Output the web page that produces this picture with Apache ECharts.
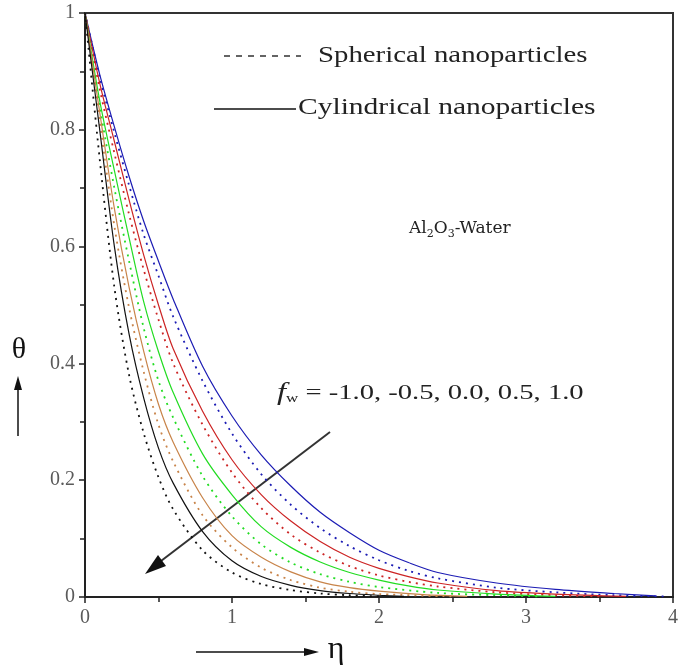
<!DOCTYPE html>
<html>
<head>
<meta charset="utf-8">
<script src="https://cdn.jsdelivr.net/npm/echarts@6/dist/echarts.min.js"></script>
<style>
  html, body { margin: 0; padding: 0; background: #fff; }
  #chart { width: 685px; height: 668px; }
</style>
</head>
<body>
<div id="chart"></div>
<script>
// fw values, one colour each
var fwValues = ['-1.0', '-0.5', '0.0', '0.5', '1.0']
var colores = ['#1c1cb4', '#cc2424', '#22dc22', '#c8844a', '#111111']

// [eta, theta] - cylindrical nanoparticles (solid)
var cilindrica = [
  [[0,1],[0.1,0.895],[0.2,0.805],[0.3,0.72],[0.4,0.643],[0.5,0.575],[0.6,0.51],[0.8,0.395],[1.0,0.31],[1.2,0.243],[1.4,0.19],[1.6,0.145],[1.8,0.11],[2.0,0.08],[2.2,0.059],[2.4,0.042],[2.8,0.024],[3.2,0.013],[3.6,0.006],[3.88,0.002]],
  [[0,1],[0.1,0.88],[0.2,0.78],[0.3,0.68],[0.4,0.585],[0.5,0.5],[0.6,0.425],[0.8,0.318],[1.0,0.235],[1.2,0.175],[1.4,0.13],[1.6,0.095],[1.8,0.068],[2.0,0.049],[2.2,0.035],[2.4,0.024],[2.8,0.011],[3.2,0.005],[3.68,0.001]],
  [[0,1],[0.1,0.85],[0.2,0.73],[0.3,0.615],[0.4,0.505],[0.5,0.42],[0.6,0.35],[0.8,0.245],[1.0,0.175],[1.2,0.12],[1.4,0.085],[1.6,0.06],[1.8,0.042],[2.0,0.029],[2.2,0.019],[2.4,0.012],[2.8,0.005],[3.2,0.001]],
  [[0,1],[0.1,0.83],[0.2,0.665],[0.3,0.53],[0.4,0.42],[0.5,0.33],[0.6,0.265],[0.8,0.17],[1.0,0.105],[1.2,0.068],[1.4,0.043],[1.6,0.026],[1.8,0.016],[2.0,0.01],[2.3,0.004],[2.6,0.001]],
  [[0,1],[0.1,0.8],[0.2,0.6],[0.3,0.45],[0.4,0.34],[0.5,0.255],[0.6,0.195],[0.8,0.112],[1.0,0.062],[1.2,0.035],[1.4,0.02],[1.6,0.011],[1.8,0.006],[2.0,0.003],[2.17,0.001]]
]

// spherical nanoparticles (dotted)
var esferica = [
  [[0,1],[0.1,0.89],[0.2,0.795],[0.3,0.705],[0.4,0.62],[0.5,0.55],[0.6,0.48],[0.8,0.37],[1.0,0.28],[1.2,0.21],[1.4,0.158],[1.6,0.118],[1.8,0.087],[2.0,0.063],[2.2,0.045],[2.4,0.032],[2.8,0.016],[3.2,0.008],[3.6,0.003],[3.95,0.001]],
  [[0,1],[0.1,0.87],[0.2,0.76],[0.3,0.655],[0.4,0.56],[0.5,0.475],[0.6,0.4],[0.8,0.295],[1.0,0.213],[1.2,0.152],[1.4,0.107],[1.6,0.076],[1.8,0.053],[2.0,0.037],[2.2,0.026],[2.4,0.018],[2.8,0.008],[3.2,0.003],[3.5,0.001]],
  [[0,1],[0.1,0.84],[0.2,0.7],[0.3,0.575],[0.4,0.46],[0.5,0.37],[0.6,0.307],[0.8,0.207],[1.0,0.138],[1.2,0.09],[1.4,0.059],[1.6,0.039],[1.8,0.026],[2.0,0.017],[2.4,0.007],[2.8,0.003],[3.1,0.001]],
  [[0,1],[0.1,0.815],[0.2,0.635],[0.3,0.495],[0.4,0.385],[0.5,0.295],[0.6,0.232],[0.8,0.14],[1.0,0.085],[1.2,0.05],[1.4,0.029],[1.6,0.016],[1.8,0.009],[2.0,0.005],[2.5,0.001]],
  [[0,1],[0.1,0.75],[0.2,0.53],[0.3,0.38],[0.4,0.28],[0.5,0.205],[0.6,0.15],[0.8,0.08],[1.0,0.042],[1.2,0.022],[1.4,0.012],[1.6,0.006],[1.8,0.003],[2.0,0.001]]
]

var xTicks = [0, 1, 2, 3, 4]
var yTicks = [0, 0.2, 0.4, 0.6, 0.8, 1]

var fonte = '"Liberation Serif", "DejaVu Serif", serif'

var series = []
for (var i = 0; i < fwValues.length; i++) {
  series.push({
    name: 'cil ' + fwValues[i],
    type: 'line',
    data: cilindrica[i],
    smooth: 0.3,
    showSymbol: false,
    lineStyle: { color: colores[i], width: 1.2, type: 'solid' }
  })
  series.push({
    name: 'esf ' + fwValues[i],
    type: 'line',
    data: esferica[i],
    smooth: 0.3,
    showSymbol: false,
    lineStyle: { color: colores[i], width: 1.8, type: [2, 5] }
  })
}

var chart = echarts.init(document.getElementById('chart'))

var option = {
  backgroundColor: '#fff',
  animation: false,
  grid: {
    left: 85, right: 12, top: 13, bottom: 71,
    show: true, borderColor: '#333', borderWidth: 2
  },
  xAxis: {
    type: 'value',
    min: xTicks[0], max: xTicks[xTicks.length - 1], interval: 1,
    axisLine: { lineStyle: { color: '#222', width: 2 } },
    axisTick: { show: true, inside: false, length: 6, lineStyle: { color: '#222', width: 1.5 } },
    minorTick: { show: true, splitNumber: 2, length: 5, lineStyle: { color: '#222', width: 1.5 } },
    splitLine: { show: false },
    axisLabel: { color: '#5a5a5a', fontFamily: fonte, fontSize: 20, margin: 11 }
  },
  yAxis: {
    type: 'value',
    min: yTicks[0], max: yTicks[yTicks.length - 1], interval: 0.2,
    axisLine: { lineStyle: { color: '#222', width: 2 } },
    axisTick: { show: true, inside: false, length: 6, lineStyle: { color: '#222', width: 1.5 } },
    minorTick: { show: true, splitNumber: 2, length: 5, lineStyle: { color: '#222', width: 1.5 } },
    splitLine: { show: false },
    axisLabel: { color: '#5a5a5a', fontFamily: fonte, fontSize: 20, margin: 10 }
  },
  series: series,
  graphic: [
    // legend
    { type: 'line', shape: { x1: 224, y1: 56, x2: 301, y2: 56 },
      style: { stroke: '#111', lineWidth: 1.3, lineDash: [6, 6] } },
    { type: 'text', x: 318, y: 56, scaleX: 1.2,
      style: { text: 'Spherical nanoparticles', font: '24px ' + fonte, fill: '#222', verticalAlign: 'middle' } },
    { type: 'line', shape: { x1: 214, y1: 109, x2: 296, y2: 109 },
      style: { stroke: '#111', lineWidth: 1.5 } },
    { type: 'text', x: 298, y: 108, scaleX: 1.23,
      style: { text: 'Cylindrical nanoparticles', font: '24px ' + fonte, fill: '#222', verticalAlign: 'middle' } },
    // fluid label
    { type: 'text', x: 409, y: 229,
      style: {
        text: 'Al{s|2}O{s|3}-Water',
        font: '17px "DejaVu Serif", serif', fill: '#222', verticalAlign: 'middle',
        rich: { s: { fontSize: 11, fontFamily: '"DejaVu Serif", serif', padding: [10, 0, 0, 0] } }
      } },
    // fw annotation
    { type: 'text', x: 277, y: 393, scaleX: 1.3,
      style: {
        text: '{f|f}{w|w} = -1.0, -0.5, 0.0, 0.5, 1.0',
        font: '22px ' + fonte, fill: '#222', verticalAlign: 'middle',
        rich: {
          f: { fontSize: 25, fontStyle: 'italic', fontFamily: fonte },
          w: { fontSize: 13, fontFamily: fonte, padding: [12, 0, 0, 0] }
        }
      } },
    { type: 'line', shape: { x1: 330, y1: 432, x2: 161, y2: 561 },
      style: { stroke: '#333', lineWidth: 2 } },
    { type: 'polygon', shape: { points: [[166, 566], [158, 555], [145, 574]] },
      style: { fill: '#111' } },
    // y axis name with arrow
    { type: 'text', x: 19, y: 350,
      style: { text: 'θ', font: '30px ' + fonte, fill: '#111', align: 'center', verticalAlign: 'middle' } },
    { type: 'line', shape: { x1: 18, y1: 436, x2: 18, y2: 388 },
      style: { stroke: '#111', lineWidth: 1.5 } },
    { type: 'polygon', shape: { points: [[14, 390], [22, 390], [18, 376]] },
      style: { fill: '#111' } },
    // x axis name with arrow
    { type: 'line', shape: { x1: 196, y1: 652, x2: 306, y2: 652 },
      style: { stroke: '#111', lineWidth: 1.5 } },
    { type: 'polygon', shape: { points: [[304, 648], [304, 656], [319, 652]] },
      style: { fill: '#111' } },
    { type: 'text', x: 336, y: 650,
      style: { text: 'η', font: '32px ' + fonte, fill: '#111', align: 'center', verticalAlign: 'middle' } }
  ]
}

chart.setOption(option)
</script>
</body>
</html>
